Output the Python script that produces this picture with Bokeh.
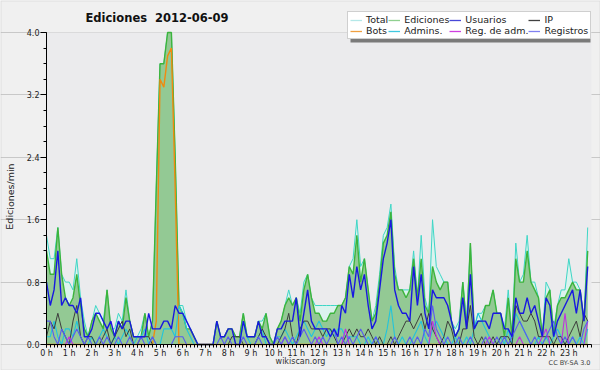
from bokeh.plotting import figure
from bokeh.models import (ColumnDataSource, Range1d, FixedTicker, Legend, LegendItem,
                          Label, PrintfTickFormatter, BoxAnnotation, LinearAxis)
from bokeh.embed import file_html
from bokeh.resources import INLINE

# ---------------- data (edits per minute, 10-minute buckets) ----------------
hours = list(range(24))
hour_labels = [f"{h} h" for h in hours]
y_ticks = [0.0, 0.8, 1.6, 2.4, 3.2, 4.0]
title_text = "Ediciones\u00a0 2012-06-09"
series_names = ["Total", "Ediciones", "Usuarios", "IP", "Bots", "Admins.", "Reg. de adm.", "Registros"]

total = [
    1.4, 1.1, 1.1, 1.5, 0.9, 0.8,
    0.8, 0.7, 1.1, 0.6, 0.3, 0.1,
    0.3, 0.5, 0.4, 0.3, 0.7, 0.2,
    0.2, 0.4, 0.3, 0.7, 0.3, 0.1,
    0.1, 0.2, 0.4, 0.1, 0.3, 2.0,
    3.6, 3.6, 4.0, 4.0, 2.4, 0.5,
    0.5, 0.3, 0.2, 0.1, 0.0, 0.0,
    0.0, 0.0, 0.0, 0.3, 0.1, 0.1,
    0.2, 0.2, 0.1, 0.1, 0.4, 0.1,
    0.1, 0.1, 0.3, 0.3, 0.4, 0.1,
    0.0, 0.2, 0.3, 0.5, 0.7, 0.5,
    0.6, 0.4, 0.8, 0.9, 0.6, 0.5,
    0.5, 0.5, 0.5, 0.5, 0.5, 0.5,
    0.5, 0.6, 1.0, 1.1, 1.6, 1.0,
    1.1, 0.7, 0.3, 0.5, 0.9, 1.4,
    1.5, 1.8, 1.0, 0.7, 0.7, 0.7,
    0.7, 1.2, 0.6, 1.4, 0.6, 0.4,
    1.6, 1.0, 0.9, 0.8, 0.8, 0.3,
    0.2, 0.3, 0.8, 0.3, 1.3, 0.2,
    0.4, 0.4, 0.5, 0.5, 0.7, 0.4,
    0.4, 0.2, 0.7, 0.1, 1.3, 0.8,
    0.9, 1.4, 0.8, 0.8, 0.6, 0.1,
    0.8, 0.7, 0.2, 0.5, 0.7, 0.7,
    1.1, 0.8, 0.8, 0.7, 0.3, 1.5,
]
ediciones = [
    1.2, 0.9, 0.9, 1.5, 0.9, 0.6,
    0.5, 0.6, 0.9, 0.5, 0.2, 0.1,
    0.3, 0.4, 0.3, 0.2, 0.7, 0.2,
    0.1, 0.3, 0.2, 0.6, 0.3, 0.1,
    0.1, 0.1, 0.4, 0.1, 0.3, 2.0,
    3.6, 3.6, 4.0, 4.0, 2.4, 0.5,
    0.4, 0.2, 0.2, 0.1, 0.0, 0.0,
    0.0, 0.0, 0.0, 0.3, 0.1, 0.1,
    0.2, 0.2, 0.1, 0.1, 0.4, 0.1,
    0.1, 0.1, 0.3, 0.2, 0.4, 0.1,
    0.0, 0.2, 0.3, 0.5, 0.6, 0.5,
    0.6, 0.3, 0.7, 0.9, 0.6, 0.4,
    0.4, 0.3, 0.3, 0.4, 0.4, 0.5,
    0.5, 0.6, 1.0, 0.9, 1.4, 0.8,
    1.1, 0.7, 0.3, 0.4, 0.8, 1.3,
    1.4, 1.7, 0.9, 0.7, 0.7, 0.6,
    0.7, 1.1, 0.6, 1.1, 0.5, 0.4,
    1.0, 0.8, 0.7, 0.8, 0.8, 0.3,
    0.1, 0.2, 0.8, 0.2, 1.3, 0.2,
    0.3, 0.3, 0.5, 0.5, 0.7, 0.4,
    0.4, 0.1, 0.6, 0.1, 1.1, 0.8,
    0.8, 1.2, 0.8, 0.7, 0.6, 0.1,
    0.6, 0.7, 0.1, 0.5, 0.6, 0.6,
    0.7, 0.8, 0.7, 0.7, 0.3, 1.2,
]
usuarios = [
    0.8, 0.5, 0.7, 1.2, 0.5, 0.6,
    0.5, 0.5, 0.4, 0.6, 0.1, 0.1,
    0.2, 0.4, 0.4, 0.3, 0.2, 0.3,
    0.1, 0.3, 0.2, 0.3, 0.3, 0.1,
    0.1, 0.1, 0.1, 0.4, 0.2, 0.2,
    0.2, 0.3, 0.3, 0.2, 0.5, 0.4,
    0.4, 0.3, 0.2, 0.1, 0.0, 0.0,
    0.0, 0.0, 0.0, 0.3, 0.1, 0.1,
    0.2, 0.2, 0.0, 0.0, 0.3, 0.1,
    0.1, 0.1, 0.3, 0.1, 0.1, 0.0,
    0.0, 0.2, 0.2, 0.3, 0.3, 0.3,
    0.6, 0.1, 0.4, 0.7, 0.3, 0.2,
    0.2, 0.2, 0.2, 0.1, 0.2, 0.1,
    0.5, 0.4, 0.9, 0.6, 1.0, 0.7,
    0.9, 0.5, 0.2, 0.3, 0.7, 1.1,
    1.3, 1.6, 0.7, 0.5, 0.4, 0.4,
    0.3, 1.0, 0.5, 0.9, 0.4, 0.2,
    0.7, 0.6, 0.6, 0.6, 0.5, 0.3,
    0.1, 0.2, 0.6, 0.2, 0.9, 0.2,
    0.3, 0.3, 0.3, 0.2, 0.4, 0.4,
    0.4, 0.2, 0.2, 0.1, 0.6, 0.4,
    0.4, 0.6, 0.4, 0.5, 0.3, 0.1,
    0.6, 0.5, 0.1, 0.3, 0.4, 0.5,
    0.6, 0.7, 0.4, 0.7, 0.3, 1.0,
]
ip = [
    0.1, 0.3, 0.2, 0.4, 0.2, 0.1,
    0.0, 0.3, 0.5, 0.1, 0.0, 0.1,
    0.1, 0.0, 0.0, 0.1, 0.2, 0.0,
    0.1, 0.2, 0.3, 0.1, 0.2, 0.0,
    0.0, 0.1, 0.1, 0.1, 0.0, 0.0,
    0.0, 0.0, 0.0, 0.0, 0.0, 0.0,
    0.0, 0.0, 0.0, 0.0, 0.0, 0.0,
    0.0, 0.0, 0.0, 0.0, 0.0, 0.0,
    0.0, 0.1, 0.1, 0.1, 0.0, 0.0,
    0.0, 0.0, 0.1, 0.2, 0.1, 0.0,
    0.0, 0.0, 0.1, 0.2, 0.4, 0.1,
    0.0, 0.2, 0.3, 0.3, 0.2, 0.2,
    0.2, 0.1, 0.2, 0.2, 0.1, 0.0,
    0.0, 0.1, 0.2, 0.1, 0.2, 0.1,
    0.1, 0.2, 0.1, 0.0, 0.1, 0.0,
    0.0, 0.1, 0.0, 0.1, 0.2, 0.3,
    0.3, 0.2, 0.3, 0.4, 0.2, 0.4,
    0.2, 0.1, 0.0, 0.1, 0.3, 0.2,
    0.0, 0.0, 0.2, 0.2, 0.5, 0.1,
    0.0, 0.1, 0.0, 0.0, 0.1, 0.0,
    0.1, 0.1, 0.1, 0.0, 0.5, 0.4,
    0.3, 0.3, 0.4, 0.3, 0.1, 0.1,
    0.1, 0.1, 0.0, 0.1, 0.1, 0.0,
    0.1, 0.2, 0.3, 0.1, 0.4, 0.3,
]
bots = [0.0] * 29 + [0.3, 3.4, 3.3, 3.7, 3.8, 2.0] + [0.0] * 109
admins = [
    0.1, 0.1, 0.3, 0.1, 0.0, 0.2,
    0.2, 0.1, 0.3, 0.1, 0.0, 0.0,
    0.1, 0.0, 0.1, 0.2, 0.1, 0.0,
    0.1, 0.0, 0.1, 0.2, 0.1, 0.0,
    0.1, 0.1, 0.2, 0.0, 0.1, 0.0,
    0.0, 0.2, 0.2, 0.2, 0.1, 0.5,
    0.4, 0.2, 0.1, 0.0, 0.0, 0.0,
    0.0, 0.0, 0.0, 0.0, 0.0, 0.0,
    0.0, 0.0, 0.0, 0.0, 0.3, 0.1,
    0.0, 0.0, 0.1, 0.2, 0.0, 0.0,
    0.0, 0.1, 0.1, 0.2, 0.1, 0.0,
    0.1, 0.2, 0.3, 0.2, 0.1, 0.2,
    0.3, 0.2, 0.1, 0.2, 0.1, 0.2,
    0.2, 0.1, 0.1, 0.1, 0.1, 0.0,
    0.0, 0.1, 0.0, 0.1, 0.0, 0.0,
    0.2, 0.5, 0.1, 0.0, 0.1, 0.0,
    0.0, 0.1, 0.2, 0.3, 0.1, 0.0,
    0.2, 0.3, 0.2, 0.1, 0.0, 0.0,
    0.1, 0.0, 0.0, 0.1, 0.0, 0.2,
    0.4, 0.3, 0.2, 0.1, 0.0, 0.0,
    0.1, 0.0, 0.2, 0.0, 0.4, 0.3,
    0.2, 0.1, 0.0, 0.0, 0.1, 0.0,
    0.1, 0.0, 0.1, 0.2, 0.1, 0.0,
    0.0, 0.1, 0.0, 0.1, 0.0, 0.2,
]
registros = [
    0.3, 0.3, 0.1, 0.0, 0.2, 0.1,
    0.0, 0.1, 0.2, 0.1, 0.0, 0.1,
    0.0, 0.0, 0.1, 0.0, 0.1, 0.0,
    0.0, 0.1, 0.0, 0.0, 0.1, 0.0,
    0.0, 0.1, 0.0, 0.0, 0.1, 0.0,
    0.0, 0.0, 0.0, 0.0, 0.1, 0.1,
    0.1, 0.0, 0.0, 0.0, 0.0, 0.0,
    0.0, 0.0, 0.0, 0.0, 0.1, 0.0,
    0.1, 0.0, 0.0, 0.0, 0.1, 0.0,
    0.0, 0.0, 0.1, 0.0, 0.0, 0.0,
    0.0, 0.1, 0.0, 0.1, 0.0, 0.1,
    0.0, 0.1, 0.2, 0.1, 0.0, 0.1,
    0.0, 0.1, 0.0, 0.1, 0.2, 0.0,
    0.1, 0.0, 0.1, 0.0, 0.1, 0.2,
    0.1, 0.0, 0.0, 0.1, 0.0, 0.0,
    0.0, 0.0, 0.1, 0.0, 0.0, 0.0,
    0.1, 0.0, 0.1, 0.0, 0.2, 0.1,
    0.5, 0.2, 0.1, 0.0, 0.1, 0.0,
    0.0, 0.1, 0.0, 0.0, 0.1, 0.0,
    0.0, 0.0, 0.1, 0.0, 0.0, 0.1,
    0.0, 0.1, 0.0, 0.1, 0.2, 0.3,
    0.2, 0.1, 0.0, 0.1, 0.0, 0.0,
    0.1, 0.2, 0.3, 0.1, 0.0, 0.1,
    0.0, 0.1, 0.0, 0.0, 0.2, 0.3,
]
reg_adm = [0.0] * 144
for _i, _v in [(6, 0.1), (63, 0.1), (72, 0.1), (79, 0.2), (102, 0.3), (103, 0.1),
               (117, 0.1), (125, 0.1), (131, 0.1), (132, 0.2), (137, 0.4), (143, 0.3)]:
    reg_adm[_i] = _v

n = len(total)
for arr in (ediciones, usuarios, ip, bots, admins, registros, reg_adm):
    assert len(arr) == n, len(arr)
x_hours = [i / 6 for i in range(n)]

src = ColumnDataSource(dict(x=x_hours, total=total, ediciones=ediciones, usuarios=usuarios,
                            ip=ip, bots=bots, admins=admins, registros=registros, reg_adm=reg_adm))

# ---------------- geometry (pixels of the 600x370 canvas) ----------------
W, H = 600, 370
PL, PR, PT, PB = 46, 591, 32, 344          # plot area edges
X0, X1, Y0, Y1 = 0.0, 24.0, 0.0, 4.0       # data extent of plot area
sx = (PR - PL) / (X1 - X0)
sy = (PB - PT) / (Y1 - Y0)
xr = Range1d(X0 - PL / sx, X1 + (W - PR) / sx)
yr = Range1d(Y0 - (H - PB) / sy, Y1 + PT / sy)


def dx(px):
    return X0 + (px - PL) / sx


def dy(py):
    return Y0 + (PB - py) / sy


FONT = "DejaVu Sans"
p = figure(width=W, height=H, x_range=xr, y_range=yr, output_backend="svg",
           toolbar_location=None, x_axis_location=None, y_axis_location=None,
           min_border=0)
p.background_fill_color = "#f0f0f0"
p.border_fill_color = "#f0f0f0"
p.outline_line_color = None
p.add_layout(BoxAnnotation(left=X0, right=X1, bottom=Y0, top=Y1, fill_color="#ebebed",
                           fill_alpha=1.0, line_color=None, level="underlay"))
# thin grey frame round the whole picture
p.add_layout(BoxAnnotation(left=xr.start, right=xr.end, bottom=yr.start, top=yr.end,
                           fill_alpha=0, line_color="#b4b4b4", line_width=2))

xaxis = LinearAxis(fixed_location=0, bounds=(X0, X1))
xaxis.ticker = FixedTicker(ticks=hours, minor_ticks=[i / 6 for i in range(145)])
xaxis.major_label_overrides = {h: lab for h, lab in zip(hours, hour_labels)}
xaxis.major_tick_in = 0
xaxis.major_tick_out = 3
xaxis.minor_tick_in = 0
xaxis.minor_tick_out = 3
xaxis.major_label_standoff = 1
yaxis = LinearAxis(fixed_location=0, bounds=(Y0, Y1))
yaxis.ticker = FixedTicker(ticks=y_ticks, minor_ticks=[k * 0.2 for k in range(21)])
yaxis.formatter = PrintfTickFormatter(format="%.1f")
yaxis.major_tick_in = 0
yaxis.major_tick_out = 6
yaxis.minor_tick_in = 0
yaxis.minor_tick_out = 3
yaxis.major_label_standoff = 1
for ax in (xaxis, yaxis):
    ax.axis_line_color = "#000000"
    ax.major_tick_line_color = "#000000"
    ax.minor_tick_line_color = "#000000"
    ax.major_label_text_font = FONT
    ax.major_label_text_font_size = "8px"
    ax.major_label_text_color = "#222222"
p.add_layout(xaxis, "below")
p.add_layout(yaxis, "left")
p.xgrid.visible = False
p.ygrid.ticker = yaxis.ticker
p.ygrid.bounds = (X0, X1)
p.ygrid.grid_line_color = "#c8c8c8"

# series
p.varea(x="x", y1=0, y2="total", source=src, fill_color="#dbf3ee")
p.line("x", "total", source=src, line_color="#3ed6c6", line_width=1)
p.varea(x="x", y1=0, y2="ediciones", source=src, fill_color="#93c994")
p.line("x", "ediciones", source=src, line_color="#3cb43c", line_width=1.4)
p.line("x", "bots", source=src, line_color="#f08a10", line_width=1.4)
p.line("x", "admins", source=src, line_color="#22c4dc", line_width=1.1)
p.line("x", "ip", source=src, line_color="#3c3c3c", line_width=1)
p.line("x", "reg_adm", source=src, line_color="#c030e0", line_width=1.1)
p.line("x", "registros", source=src, line_color="#5a5af0", line_width=1.1)
p.line("x", "usuarios", source=src, line_color="#1818e0", line_width=1.4)

# legend swatches (line samples in the legend's own colours; they draw nothing on the plot)
legend_colors = ["#b4e8e8", "#90d090", "#4848d8", "#404040",
                 "#f0a040", "#40c8e0", "#d040e0", "#8080f0"]
swatches = [p.line("x", "y", source=ColumnDataSource(dict(x=[float("nan")], y=[float("nan")])),
                   line_color=c, line_width=1.3) for c in legend_colors]

LEG_L, LEG_B, LEG_W, LEG_H = 347, 39, 239, 27
# drop shadow behind the legend box
p.add_layout(BoxAnnotation(left=dx(LEG_L + 3), right=dx(LEG_L + LEG_W + 4),
                           top=dy(LEG_B - LEG_H + 3), bottom=dy(LEG_B + 3),
                           fill_color="#7a7a7a", fill_alpha=1.0, line_color=None))
legend = Legend(items=[LegendItem(label=series_names[k], renderers=[swatches[k]]) for k in range(8)],
                location=(LEG_L, H - LEG_B), orientation="horizontal", ncols=4,
                label_text_font=FONT, label_text_font_size="9.5px", label_text_color="#222222",
                glyph_width=12, glyph_height=10, label_height=10, label_standoff=4,
                spacing=0, padding=2, margin=0,
                background_fill_color="#ffffff", background_fill_alpha=1.0,
                border_line_color="#a0a0a0", border_line_width=1)
p.add_layout(legend)

# texts
p.add_layout(Label(x=dx(85), y=dy(17), text=title_text,
                   text_font=FONT, text_font_size="11.5px", text_font_style="bold",
                   text_color="#111111", text_baseline="alphabetic", text_align="left"))
p.add_layout(Label(x=dx(4), y=dy(196), text="Ediciones/min",
                   angle=1.5707963, text_font=FONT, text_font_size="9.5px",
                   text_color="#222222", text_baseline="top", text_align="center"))
p.add_layout(Label(x=dx(300), y=dy(361), text="wikiscan.org",
                   text_font=FONT, text_font_size="8px", text_color="#333333",
                   text_baseline="alphabetic", text_align="center"))
p.add_layout(Label(x=dx(590), y=dy(362), text="CC BY-SA 3.0",
                   text_font=FONT, text_font_size="6.5px", text_color="#444444",
                   text_baseline="alphabetic", text_align="right"))

open("out.html", "w").write(file_html(p, INLINE))
